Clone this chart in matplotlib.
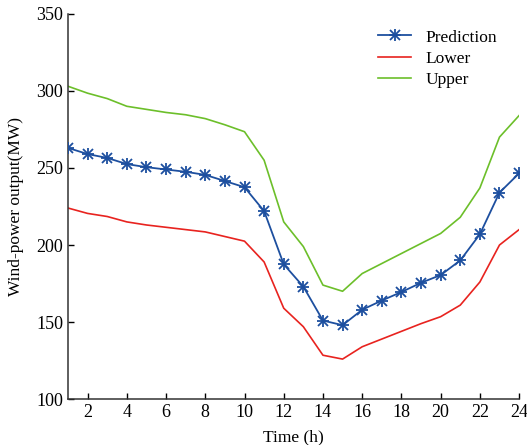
import numpy as np
import matplotlib.pyplot as plt
from matplotlib.legend_handler import HandlerTuple

plt.rcParams['font.family'] = ['Liberation Serif', 'DejaVu Serif']

# Hours and series
hours = np.arange(1, 25)
prediction = [263, 259, 256.5, 252.5, 250.5, 249, 247.5, 245.5, 241.5, 237.5, 222, 187.5,
              173, 151, 148, 158, 164, 169.5, 175.5, 180.5, 190, 207, 234, 246.5]
lower = [224, 220.5, 218.5, 215, 213, 211.5, 210, 208.5, 205.5, 202.5, 189, 159,
         147, 128.5, 126, 134, 139, 144, 149, 153.5, 161, 176, 200, 210]
upper = [303, 298.5, 295, 290, 288, 286, 284.5, 282, 278, 273.5, 255, 215,
         199, 174, 170, 181.5, 188, 194.5, 201, 207.5, 218, 237, 270, 284]
xticks = list(range(2, 25, 2))
yticks = [100, 150, 200, 250, 300, 350]

blue = '#1d4f9f'
red = '#e8231f'
green = '#6cbf2a'

fig = plt.figure(figsize=(5.27, 4.45), dpi=100)
ax = fig.add_axes([0.129, 0.103, 0.856, 0.866])

# Prediction with an 8-arm asterisk marker (+ and x overlaid)
p_line, = ax.plot(hours, prediction, color=blue, lw=1.3, marker='+', ms=9, mew=1.3, zorder=3)
p_x, = ax.plot(hours, prediction, color=blue, lw=0, marker='x', ms=7, mew=1.3, zorder=3)
l_line, = ax.plot(hours, lower, color=red, lw=1.2)
u_line, = ax.plot(hours, upper, color=green, lw=1.2)

ax.set_xlim(1, 24)
ax.set_ylim(100, 350)
ax.set_xticks(xticks)
ax.set_yticks(yticks)
ax.tick_params(direction='in', length=4, width=1, labelsize=13, colors='black')
for side in ['top', 'right']:
    ax.spines[side].set_visible(False)
for side in ['left', 'bottom']:
    ax.spines[side].set_linewidth(1.1)
    ax.spines[side].set_color('#333333')

ax.set_xlabel('Time (h)', fontsize=12.5, labelpad=6)
ax.set_ylabel('Wind-power output(MW)', fontsize=12.5, labelpad=9)

ax.legend([(p_line, p_x), l_line, u_line], ['Prediction', 'Lower', 'Upper'],
          handler_map={tuple: HandlerTuple(ndivide=1, pad=0)},
          loc='upper right', bbox_to_anchor=(0.985, 1.0), frameon=False,
          fontsize=12.5, handlelength=1.9, labelspacing=0.3, handletextpad=0.8)

fig.savefig('out.png', dpi=100)
